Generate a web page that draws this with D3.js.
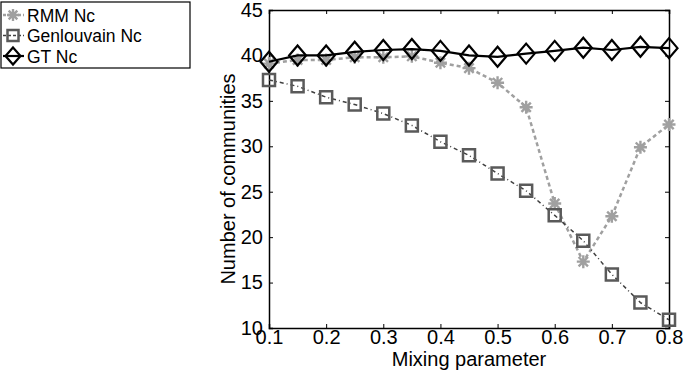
<!DOCTYPE html>
<html>
<head>
<meta charset="utf-8">
<script src="https://cdn.jsdelivr.net/npm/d3@7"></script>
<style>
  body { margin: 0; background: #fff; }
  svg text { font-family: "Liberation Sans", Arial, sans-serif; fill: #000; }
</style>
</head>
<body>
<div id="chart"></div>
<script>
// data
const mixing = [0.1, 0.15, 0.2, 0.25, 0.3, 0.35, 0.4, 0.45, 0.5, 0.55, 0.6, 0.65, 0.7, 0.75, 0.8];
const rmm = [39.1, 39.5, 39.5, 39.8, 39.8, 39.9, 39.2, 38.6, 37.0, 34.3, 23.7, 17.3, 22.3, 29.9, 32.4];
const genlouvain = [37.3, 36.6, 35.4, 34.6, 33.6, 32.3, 30.5, 29.0, 27.0, 25.1, 22.4, 19.6, 15.9, 12.8, 10.9];
const gt = [39.3, 40.0, 40.0, 40.4, 40.6, 40.7, 40.5, 40.0, 39.85, 40.2, 40.5, 40.85, 40.6, 40.95, 40.8];
const xTicks = [0.1, 0.2, 0.3, 0.4, 0.5, 0.6, 0.7, 0.8];
const yTicks = [10, 15, 20, 25, 30, 35, 40, 45];

const width = 683, height = 376;
const margin = {top: 10, right: 14, bottom: 48, left: 269};
const w = width - margin.left - margin.right;
const h = height - margin.top - margin.bottom;

const svg = d3.select("#chart").append("svg")
  .attr("width", width).attr("height", height);

const g = svg.append("g")
  .attr("transform", "translate(" + margin.left + "," + margin.top + ")");

const x = d3.scaleLinear().domain([0.1, 0.8]).range([0, w]);
const y = d3.scaleLinear().domain([10, 45]).range([h, 0]);

// axes (matlab style, ticks inside)
const fmtX = d3.format(".1f");
g.append("g").attr("class", "axis")
  .attr("transform", "translate(0," + h + ")")
  .call(d3.axisBottom(x).tickValues(xTicks).tickSize(-4).tickPadding(2).tickFormat(fmtX));
g.append("g").attr("class", "axis")
  .call(d3.axisTop(x).tickValues(xTicks).tickSize(-4).tickFormat(""));
g.append("g").attr("class", "axis")
  .call(d3.axisLeft(y).tickValues(yTicks).tickSize(-4).tickPadding(6));
g.append("g").attr("class", "axis")
  .attr("transform", "translate(" + w + ",0)")
  .call(d3.axisRight(y).tickValues(yTicks).tickSize(-4).tickFormat(""));

g.selectAll(".axis path").attr("stroke", "#000").attr("stroke-width", 1.5);
g.selectAll(".axis line").attr("stroke", "#000").attr("stroke-width", 1);
g.selectAll(".axis text").attr("font-size", 20).attr("fill", "#000")
  .style("font-family", "'Liberation Sans', Arial, sans-serif");

// axis titles
g.append("text")
  .attr("x", w / 2).attr("y", h + 38)
  .attr("text-anchor", "middle")
  .attr("font-size", 20)
  .text("Mixing parameter");
g.append("text")
  .attr("transform", "translate(-34," + (h / 2 + 10) + ") rotate(-90)")
  .attr("text-anchor", "middle")
  .attr("font-size", 20)
  .text("Number of communities");

// markers
function starPath(s) {
  const r = s / 2, d = r * 0.72;
  return "M" + (-r) + ",0L" + r + ",0M0," + (-r) + "L0," + r +
    "M" + (-d) + "," + (-d) + "L" + d + "," + d + "M" + (-d) + "," + d + "L" + d + "," + (-d);
}
function squarePath(s) {
  const r = s / 2;
  return "M" + (-r) + "," + (-r) + "h" + s + "v" + s + "h" + (-s) + "Z";
}
function diamondPath(wd, ht) {
  return "M0," + (-ht / 2) + "L" + (wd / 2) + ",0L0," + (ht / 2) + "L" + (-wd / 2) + ",0Z";
}

const series = [
  {name: "RMM Nc", values: rmm, color: "#a0a0a0", width: 2.5, dash: "4,3",
    marker: starPath(13), mColor: "#a0a0a0", mWidth: 2.4},
  {name: "Genlouvain Nc", values: genlouvain, color: "#404040", width: 1.5, dash: "4,3,1,3",
    marker: squarePath(12), mColor: "#5a5a5a", mWidth: 2.5},
  {name: "GT Nc", values: gt, color: "#000", width: 2.2, dash: null,
    marker: diamondPath(17, 20), mColor: "#000", mWidth: 2.2}
];

const line = d3.line().x((d, i) => x(mixing[i])).y(d => y(d));

series.forEach(s => {
  g.append("path")
    .attr("d", line(s.values))
    .attr("fill", "none")
    .attr("stroke", s.color)
    .attr("stroke-width", s.width)
    .attr("stroke-dasharray", s.dash);
  g.selectAll(null)
    .data(s.values)
    .enter()
    .append("path")
    .attr("d", s.marker)
    .attr("transform", (d, i) => "translate(" + x(mixing[i]) + "," + y(d) + ")")
    .attr("fill", "none")
    .attr("stroke", s.mColor)
    .attr("stroke-width", s.mWidth);
});

// legend
const legendRows = [
  {marker: starPath(12)},
  {marker: squarePath(11)},
  {marker: diamondPath(15, 17)}
];
const legend = svg.append("g").attr("transform", "translate(1,2)");
legend.append("rect")
  .attr("width", 189).attr("height", 66)
  .attr("fill", "#fff").attr("stroke", "#000").attr("stroke-width", 1.2);
series.forEach((s, i) => {
  const ly = 13 + i * 20.5;
  legend.append("line")
    .attr("x1", 2).attr("x2", 23).attr("y1", ly).attr("y2", ly)
    .attr("stroke", s.color).attr("stroke-width", s.width)
    .attr("stroke-dasharray", s.dash ? "3,2" : null);
  legend.append("path")
    .attr("d", legendRows[i].marker)
    .attr("transform", "translate(12," + ly + ")")
    .attr("fill", "none").attr("stroke", s.mColor).attr("stroke-width", s.mWidth);
  legend.append("text")
    .attr("x", 26).attr("y", ly + 6.5)
    .attr("font-size", 17.5)
    .text(s.name);
});
</script>
</body>
</html>
